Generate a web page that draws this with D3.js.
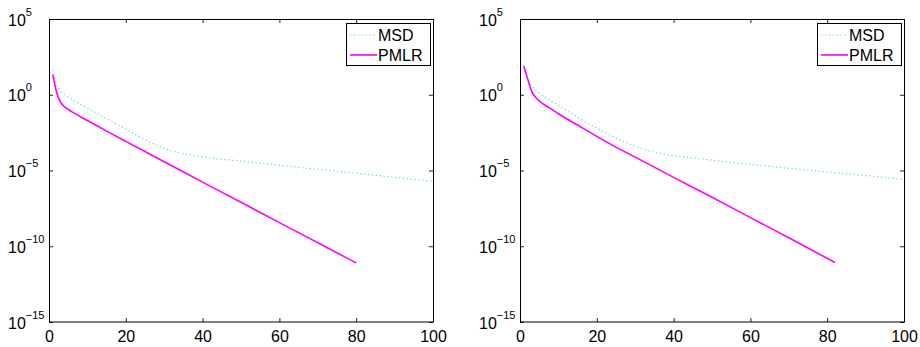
<!DOCTYPE html>
<html><head><meta charset="utf-8">
<script src="https://cdn.jsdelivr.net/npm/d3@7"></script>
<style>body{margin:0;background:#fff} text{font-family:"Liberation Sans",Arial,Helvetica,sans-serif}</style>
</head><body><svg id="c" width="920" height="347"></svg>
<script>
const xTicks = [0, 20, 40, 60, 80, 100];
const yTicks = [1e5, 1e0, 1e-5, 1e-10, 1e-15];
const yTickExpLabels = ["5", "0", "\u22125", "\u221210", "\u221215"];
const seriesNames = ["MSD", "PMLR"];

// Left panel
const leftMsdIter = [1, 2, 3, 4, 5, 6, 8, 10, 15, 20, 25, 30, 35, 40, 45, 50, 60, 70, 80, 90, 100];
const leftMsdVal  = [4.5e1, 5.0, 2.0, 1.1, 7.1e-1, 5.0e-1, 2.5e-1, 1.3e-1, 2.6e-2, 5.4e-3, 1.1e-3, 2.8e-4, 1.3e-4, 7.9e-5, 5.6e-5, 4.2e-5, 2.2e-5, 1.2e-5, 6.6e-6, 3.5e-6, 1.9e-6];
const leftPmlrIter = [1, 2, 3, 4, 5, 6, 8, 10, 15, 20, 25, 30, 40, 50, 60, 70, 80];
const leftPmlrVal  = [2.1e1, 1.4, 3.2e-1, 1.66e-1, 1.07e-1, 7.41e-2, 3.80e-2, 2.00e-2, 3.98e-3, 8.32e-4, 1.78e-4, 3.80e-5, 1.70e-6, 7.94e-8, 3.63e-9, 1.70e-10, 7.94e-12];

// Right panel
const rightMsdIter = [1, 2, 3, 4, 5, 6, 8, 10, 15, 20, 25, 30, 35, 40, 45, 50, 60, 70, 80, 90, 100];
const rightMsdVal  = [7.9e1, 1.0e1, 4.0, 2.0, 1.3, 8.3e-1, 4.0e-1, 2.0e-1, 3.2e-2, 6.3e-3, 1.4e-3, 4.0e-4, 1.6e-4, 9.5e-5, 6.8e-5, 4.8e-5, 2.5e-5, 1.4e-5, 7.9e-6, 4.7e-6, 2.6e-6];
const rightPmlrIter = [1, 2, 3, 4, 5, 6, 8, 10, 15, 20, 25, 30, 40, 50, 60, 70, 82];
const rightPmlrVal  = [7.9e1, 1.1e1, 1.8, 7.1e-1, 4.0e-1, 2.5e-1, 1.2e-1, 5.6e-2, 1.0e-2, 1.8e-3, 3.5e-4, 7.6e-5, 3.5e-6, 1.7e-7, 7.8e-9, 3.6e-10, 8.5e-12];

const svg = d3.select("#c");
const W = 384, H = 303, TOP = 19;
const colMsd = "#6fd6d6", colPmlr = "#ff00ff";

function panel(left, msdI, msdV, pmI, pmV) {
  const g = svg.append("g").attr("transform", `translate(${left},${TOP})`);
  const x = d3.scaleLinear().domain([0, 100]).range([0, W]);
  const y = d3.scaleLog().domain([1e-15, 1e5]).range([H, 0]);

  const line = d3.line().x(d => x(d[0])).y(d => y(d[1])).curve(d3.curveMonotoneX);
  g.append("path").datum(d3.zip(msdI, msdV)).attr("d", line)
    .attr("fill", "none").attr("stroke", colMsd).attr("stroke-width", 1.2)
    .attr("stroke-dasharray", "1.3,2.6");
  g.append("path").datum(d3.zip(pmI, pmV)).attr("d", line)
    .attr("fill", "none").attr("stroke", colPmlr).attr("stroke-width", 1.6);

  // axes (ticks inward)
  const ax = (a) => a.selectAll(".domain").remove();
  g.append("g").attr("transform", `translate(0,${H})`)
    .call(d3.axisBottom(x).tickValues(xTicks).tickSize(-4).tickPadding(8).tickFormat(d3.format("d")))
    .call(ax).call(s => s.selectAll("text").attr("font-size", 16).attr("fill", "#000").attr("dy", "0.75em"))
    .call(s => s.selectAll("line").attr("stroke", "#222"));
  g.append("g")
    .call(d3.axisTop(x).tickValues(xTicks).tickSize(-4).tickFormat(""))
    .call(ax).call(s => s.selectAll("line").attr("stroke", "#222"));
  g.append("g")
    .call(d3.axisLeft(y).tickValues(yTicks).tickSize(-4).tickFormat(""))
    .call(ax).call(s => s.selectAll("line").attr("stroke", "#222"));
  g.append("g").attr("transform", `translate(${W},0)`)
    .call(d3.axisRight(y).tickValues(yTicks).tickSize(-4).tickFormat(""))
    .call(ax).call(s => s.selectAll("line").attr("stroke", "#222"));

  // y tick labels 10^n
  yTicks.forEach((v, i) => {
    const t = g.append("text").attr("x", -41).attr("y", y(v) + 6.5).attr("font-size", 16).attr("fill", "#000");
    t.append("tspan").text("10");
    t.append("tspan").attr("font-size", 11).attr("dy", -10).text(yTickExpLabels[i]);
  });

  // box
  g.append("rect").attr("x", 0.5).attr("y", 0.5).attr("width", W).attr("height", H - 0.5)
    .attr("fill", "none").attr("stroke", "#000").attr("stroke-width", 1);

  // legend
  const lg = g.append("g").attr("transform", `translate(${W - 87},4)`);
  lg.append("rect").attr("x", 0.5).attr("y", 0.5).attr("width", 84).attr("height", 42)
    .attr("fill", "#fff").attr("stroke", "#000").attr("stroke-width", 1);
  const items = [[colMsd, "1.3,2.6", 1.2], [colPmlr, null, 1.6]];
  seriesNames.forEach((nm, i) => {
    const yy = 12 + i * 20;
    const l = lg.append("line").attr("x1", 4).attr("x2", 31).attr("y1", yy).attr("y2", yy)
      .attr("stroke", items[i][0]).attr("stroke-width", items[i][2]);
    if (items[i][1]) l.attr("stroke-dasharray", items[i][1]);
    lg.append("text").attr("x", 32).attr("y", yy + 5.5).attr("font-size", 16).attr("fill", "#000").text(nm);
  });
}

panel(49, leftMsdIter, leftMsdVal, leftPmlrIter, leftPmlrVal);
panel(520, rightMsdIter, rightMsdVal, rightPmlrIter, rightPmlrVal);
</script></body></html>
